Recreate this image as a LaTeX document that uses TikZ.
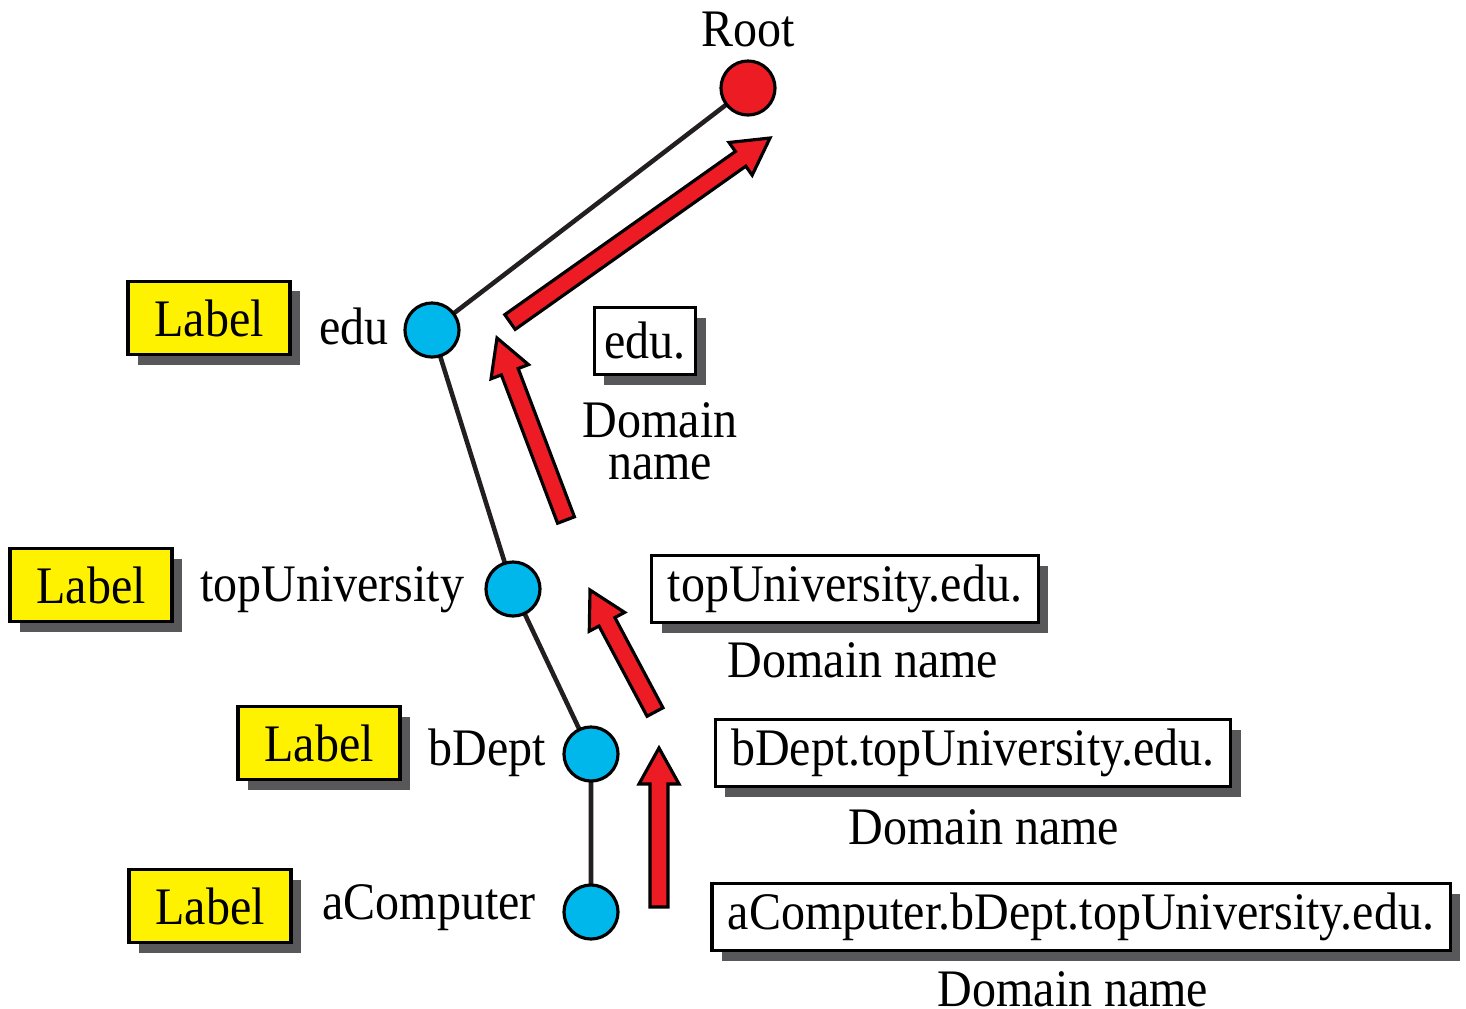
\documentclass[tikz,border=0pt]{standalone}
\usepackage{fontspec}
\setmainfont{Liberation Serif}[FakeStretch=0.91]
\usetikzlibrary{shadows, calc}

\definecolor{rootred}{RGB}{237,28,36}
\definecolor{nodecyan}{RGB}{0,183,235}
\definecolor{labelyellow}{RGB}{255,242,0}
\definecolor{shadowgray}{RGB}{88,88,90}
\definecolor{edgeblack}{RGB}{35,31,32}

\tikzset{
  treenode/.style={circle, draw=black, line width=0.9pt, minimum size=0.54cm, inner sep=0pt},
  labelbox/.style={draw=black, line width=0.9pt, fill=labelyellow, minimum width=1.62cm, minimum height=0.73cm, inner sep=0pt,
    drop shadow={shadow xshift=0.1cm, shadow yshift=-0.1cm, opacity=1, fill=shadowgray}},
  namebox/.style={draw=black, line width=0.9pt, fill=white, minimum height=0.67cm, inner xsep=0.16cm, inner ysep=0pt,
    drop shadow={shadow xshift=0.1cm, shadow yshift=-0.1cm, opacity=1, fill=shadowgray}},
  treeedge/.style={line width=1.3pt, draw=edgeblack},
  fatarrow/.style={draw=black, line width=0.9pt, fill=rootred, line join=miter},
}

% block arrow from tail #1 to tip #2
\newcommand{\redarrow}[2]{%
  \coordinate (neck) at ($(#2)!0.36cm!(#1)$);
  \draw[fatarrow] ($(#1)!0.09cm!90:(#2)$) -- ($(neck)!0.09cm!90:(#2)$) -- ($(neck)!0.2cm!90:(#2)$) -- (#2)
    -- ($(neck)!0.2cm!-90:(#2)$) -- ($(neck)!0.09cm!-90:(#2)$) -- ($(#1)!0.09cm!-90:(#2)$) -- cycle;}

\begin{document}
\begin{tikzpicture}[x=0.01cm, y=-0.01cm, font=\fontsize{15pt}{17pt}\selectfont]
\useasboundingbox (0,0) rectangle (1466,1008);

% Tree
\draw[treeedge] (748,88) coordinate (rootc) -- (432,330) coordinate (educ)
  -- (513,589) coordinate (unic) -- (591,754) coordinate (deptc) -- (591,912) coordinate (compc);
\node[treenode, fill=rootred] (root) at (rootc) {};
\node (rootlbl) at (748,29) {Root};
\node[treenode, fill=nodecyan] (edu) at (educ) {};
\node[treenode, fill=nodecyan] (uni) at (unic) {};
\node[treenode, fill=nodecyan] (dept) at (deptc) {};
\node[treenode, fill=nodecyan] (comp) at (compc) {};

% Labels
\node[labelbox] (lab1) at (209,318) {Label};
\node[labelbox] (lab2) at (91,585) {Label};
\node[labelbox] (lab3) at (319,743) {Label};
\node[labelbox] (lab4) at (210,906) {Label};

\node (edulbl) at (354,326) {edu};
\node (unilbl) at (332,590) {topUniversity};
\node (deptlbl) at (487,753) {bDept};
\node (complbl) at (429,908) {aComputer};

% Domain names
\node[namebox, inner xsep=0.1cm] (dn1) at (645,341) {edu.};
\node[align=center, font=\fontsize{15pt}{12pt}\selectfont] (dt1) at (660,441) {Domain\\name};
\node[namebox] (dn2) at (845,589) {topUniversity.edu.};
\node (dt2) at (863,660) {Domain name};
\node[namebox] (dn3) at (973,753) {bDept.topUniversity.edu.};
\node (dt3) at (984,827) {Domain name};
\node[namebox] (dn4) at (1081,917) {aComputer.bDept.topUniversity.edu.};
\node (dt4) at (1073,989) {Domain name};

% Arrows
\coordinate (t1) at (510,322); \coordinate (h1) at (770,138);
\coordinate (t2) at (566,520); \coordinate (h2) at (497,338);
\coordinate (t3) at (655,712); \coordinate (h3) at (590,590);
\coordinate (t4) at (659,907); \coordinate (h4) at (659,748);
\redarrow{t1}{h1}
\redarrow{t2}{h2}
\redarrow{t3}{h3}
\redarrow{t4}{h4}

\end{tikzpicture}
\end{document}
